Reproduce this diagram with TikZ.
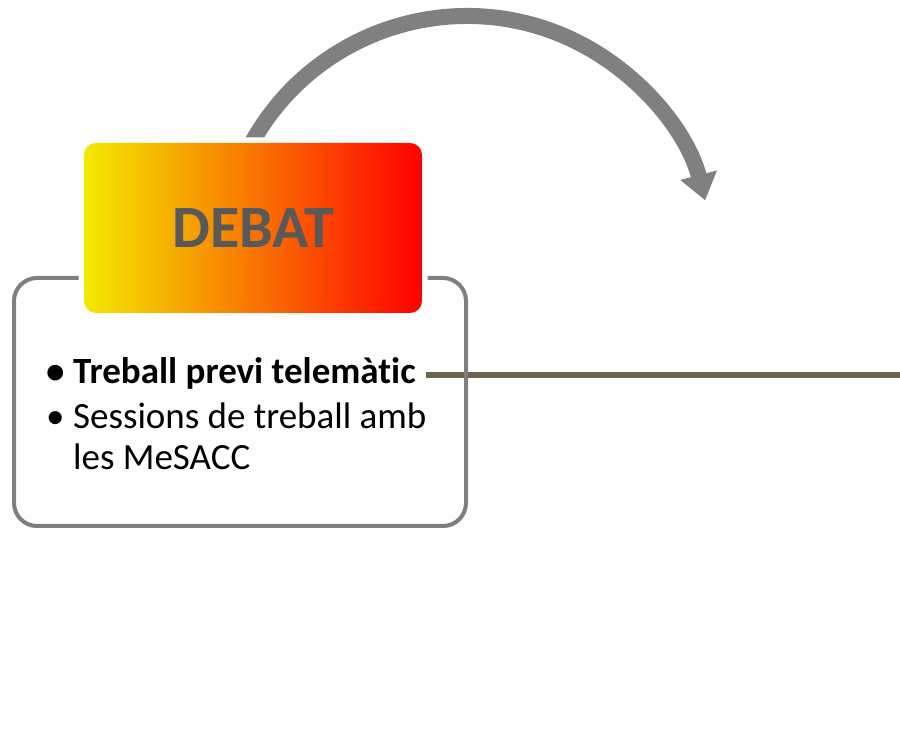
\documentclass[tikz,border=0pt]{standalone}
\usepackage{fontspec}
\setmainfont{Carlito}[Ligatures=NoCommon]
\usetikzlibrary{arrows.meta,calc,positioning,shadings}
\definecolor{db-arc}{HTML}{808080}
\definecolor{db-frame}{HTML}{7F7F7F}
\definecolor{db-yellow}{HTML}{F2EA00}
\definecolor{db-orange}{HTML}{FFA500}
\definecolor{db-red}{HTML}{FF0000}
\definecolor{db-title}{HTML}{595959}
\definecolor{db-link}{HTML}{6B6250}

\begin{document}
\begin{tikzpicture}[x=1pt, y=1pt, >=Triangle]

  % Styles
  \tikzset{
    panel/.style={draw=db-frame, line width=4pt, rounded corners=23pt, minimum width=452pt, minimum height=248pt, inner sep=0pt},
    headbox/.style={preaction={draw=white, line width=11pt}, rounded corners=12pt, left color=db-yellow, middle color=db-orange, right color=db-red, minimum width=338pt, minimum height=170pt, inner sep=0pt, text=db-title, font=\fontsize{60}{72}\selectfont\bfseries},
    item/.style={anchor=base west, inner sep=0pt, align=left, font=\fontsize{37}{41}\selectfont},
    link/.style={draw=db-link, line width=6pt},
    turnarrow/.style={draw=db-arc, line width=16pt, -{Triangle[width=36pt, length=26pt]}}
  }

  \useasboundingbox (0,0) rectangle (900,731);

  % Anchor points
  \coordinate (hub) at (467,469);
  \coordinate (lineend) at (900,356);

  % Curved arrow over the box
  \draw[turnarrow] ($(hub)+(152:246pt)$) arc[start angle=152, end angle=14.5, radius=246pt];

  % Bullet items (base of item2 is its last line)
  \node[item, font=\fontsize{37}{41}\selectfont\bfseries] (item1) at (46,347) {\makebox[27pt][l]{•}Treball previ telemàtic};
  \node[item] (item2) at (46,261) {\makebox[27pt][l]{•}Sessions de treball amb\\\hspace*{27pt}les MeSACC};

  % Connector to the right
  \draw[link] ($(item1.base east)+(10pt,9pt)$) -- ($(item1.base east -| lineend)+(0,9pt)$);

  % Frame and heading
  \node[panel] (frame) at (240,329) {};
  \node[headbox] (debat) at (253,503) {DEBAT};

\end{tikzpicture}
\end{document}
